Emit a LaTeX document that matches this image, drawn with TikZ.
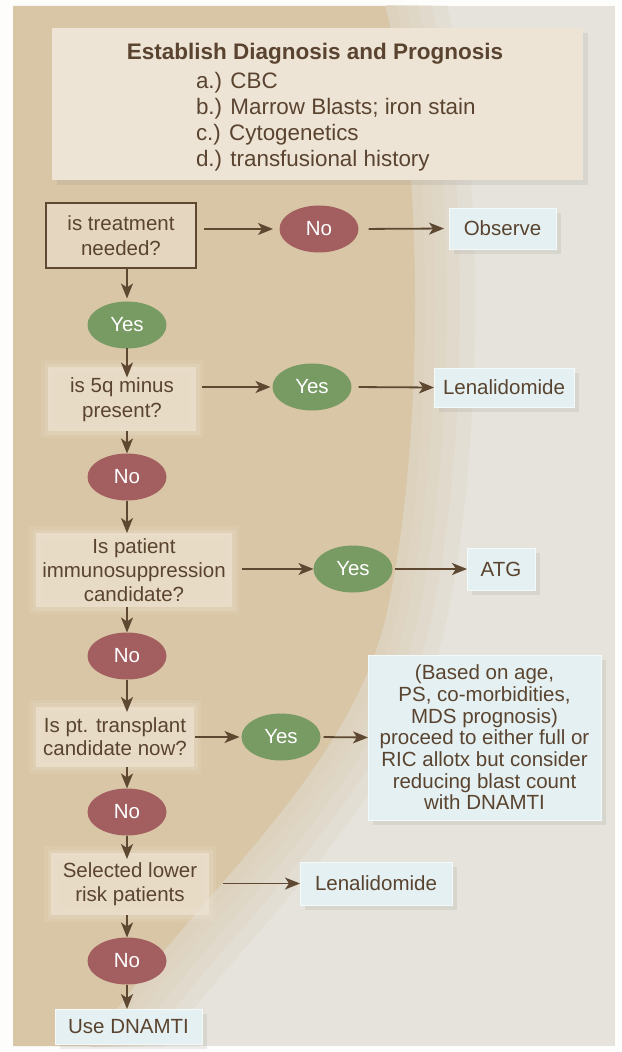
\documentclass[tikz,border=0pt]{standalone}
\usepackage{fontspec}
\setmainfont{Liberation Sans}
\usetikzlibrary{arrows.meta,shadows,shapes.geometric}
\definecolor{txt}{HTML}{5A4430}
\definecolor{arr}{HTML}{5E4832}
\definecolor{nored}{HTML}{A35F60}
\definecolor{yesgreen}{HTML}{789A63}
\definecolor{bluebox}{HTML}{E4F0F1}
\definecolor{tanbg}{HTML}{D9C6A6}
\definecolor{graybg}{HTML}{E5E3DB}
\definecolor{topfill}{HTML}{EDE4D6}
\definecolor{glowfill}{HTML}{EEE4D4}
\begin{document}
\begin{tikzpicture}[x=0.5pt,y=-0.5pt,
 font=\fontsize{10.25}{12.5}\selectfont,
 every node/.style={text=txt, inner sep=0pt, outer sep=0pt},
 oval/.style={ellipse, minimum width=39.5pt, minimum height=23.5pt, text=white},
 nonode/.style={oval, fill=nored},
 yesnode/.style={oval, fill=yesgreen},
 shadowed/.style={drop shadow={opacity=0.14, shadow xshift=2.5pt, shadow yshift=-2.5pt}},
 bluenode/.style={rectangle, fill=bluebox, draw=white!60!bluebox, line width=0.4pt, align=center, shadowed},
 glownode/.style={rectangle, align=center, text opacity=1,
   preaction={draw=glowfill, draw opacity=0.15, line width=7pt},
   preaction={draw=glowfill, draw opacity=0.2, line width=3.5pt},
   fill=glowfill, fill opacity=0.7},
 arrow/.style={draw=arr, line width=0.9pt, -{Stealth[length=7.5pt,width=6pt,inset=2pt]}},
 softedge/.style={tanbg, opacity=0.14},
]
\useasboundingbox (0,0) rectangle (621,1052);
% background
\fill[white!92!graybg] (0,0) rectangle (621,1052);
\fill[graybg] (13,6) rectangle (615,1046);
\begin{scope}
\clip (13,6) rectangle (615,1046);
\fill[tanbg] (13,6) -- (385,6) .. controls (425,150) and (425,450) .. (385,620) .. controls (345,780) and (190,900) .. (90,1046) -- (13,1046) -- cycle;
\foreach \w in {60,45,32,20,10} {
  \draw[softedge, line width=\w pt] (385,6) .. controls (425,150) and (425,450) .. (385,620) .. controls (345,780) and (190,900) .. (90,1046);
}
\end{scope}
% top box
\node[rectangle, fill=topfill, minimum width=265.5pt, minimum height=76pt, shadowed] (top) at (317,104) {};
\node[font=\fontsize{11.25}{13}\selectfont\bfseries] (title) at (315,54) {Establish Diagnosis and Prognosis};
\node[anchor=west, align=left, font=\fontsize{11.2}{13}\selectfont] (items) at (196,122) {a.) CBC\\b.) Marrow Blasts; iron stain\\c.) Cytogenetics\\d.) transfusional history};
% flow
\node[rectangle, draw=arr, line width=1pt, fill=glowfill!55!tanbg, minimum width=75pt, minimum height=32.5pt, align=center] (treat) at (121,235.5) {is treatment\\needed?};
\node[nonode] (no1) at (319,229) {No};
\node[bluenode, minimum width=53.5pt, minimum height=20.5pt] (obs) at (502.5,228.5) {Observe};
\node[yesnode] (yes1) at (127,325) {Yes};
\node[glownode, minimum width=74pt, minimum height=32pt] (q5) at (122,399.5) {is 5q minus\\present?};
\node[yesnode] (yes2) at (312,387) {Yes};
\node[bluenode, minimum width=70pt, minimum height=19.5pt] (lena1) at (504,387.5) {Lenalidomide};
\node[nonode] (no2) at (127,477) {No};
\node[glownode, minimum width=98pt, minimum height=37pt, font=\fontsize{10.25}{12}\selectfont] (immuno) at (134,570) {Is patient\\immunosuppression\\candidate?};
\node[yesnode] (yes3) at (353,569) {Yes};
\node[bluenode, minimum width=34pt, minimum height=21pt] (atg) at (501,569) {ATG};
\node[nonode] (no3) at (127,656) {No};
\node[glownode, minimum width=79pt, minimum height=30pt, font=\fontsize{10.25}{11.5}\selectfont] (trans) at (115,736.5) {Is pt. transplant\\candidate now?};
\node[yesnode] (yes4) at (281,737) {Yes};
\node[bluenode, minimum width=116.5pt, minimum height=82.5pt, font=\fontsize{10.25}{10.85}\selectfont] (big) at (484.5,737.5) {(Based on age,\\PS, co-morbidities,\\MDS prognosis)\\proceed to either full or\\RIC allotx but consider\\reducing blast count\\with DNAMTI};
\node[nonode] (no4) at (127,812) {No};
\node[glownode, minimum width=79pt, minimum height=31pt, font=\fontsize{10.25}{12}\selectfont] (sel) at (130,884) {Selected lower\\risk patients};
\node[bluenode, minimum width=76pt, minimum height=21.5pt] (lena2) at (376,883.5) {Lenalidomide};
\node[nonode] (no5) at (127,961) {No};
\node[bluenode, minimum width=73.5pt, minimum height=17.5pt] (dnamti) at (128.5,1026.5) {Use DNAMTI};
% vertical arrows
\draw[arrow, shorten >=1.5pt] (yes1.north |- treat.south) -- (yes1.north);
\draw[arrow, shorten >=-5pt] (yes1.south) -- (yes1.south |- q5.north);
\draw[arrow] (no2.north |- q5.south) -- (no2.north);
\draw[arrow] (no2.south) -- (no2.south |- immuno.north);
\draw[arrow] (no3.north |- immuno.south) -- (no3.north);
\draw[arrow, shorten >=-2.75pt] (no3.south) -- (no3.south |- trans.north);
\draw[arrow] (no4.north |- trans.south) -- (no4.north);
\draw[arrow, shorten >=-3pt] (no4.south) -- (no4.south |- sel.north);
\draw[arrow] (no5.north |- sel.south) -- (no5.north);
\draw[arrow] (no5.south) -- (no5.south |- dnamti.north);
% horizontal arrows
\draw[arrow, shorten <=4pt, shorten >=3.25pt] (treat.east |- no1.west) -- (no1.west);
\draw[arrow, shorten <=5pt, shorten >=2.5pt] (no1.east) -- (obs.west);
\draw[arrow, shorten <=3pt, shorten >=1pt] (q5.east |- yes2.west) -- (yes2.west);
\draw[arrow, shorten <=3.5pt] (yes2.east) -- (lena1.west);
\draw[arrow, shorten <=4.75pt] (immuno.east |- yes3.west) -- (yes3.west);
\draw[arrow, shorten <=1pt] (yes3.east) -- (atg.west);
\draw[arrow, shorten <=0.5pt, shorten >=1pt] (trans.east |- yes4.west) -- (yes4.west);
\draw[arrow, shorten <=1.5pt] (yes4.east) -- (big.west);
\draw[arrow, shorten <=6.75pt] (sel.east |- lena2.west) -- (lena2.west);
\end{tikzpicture}
\end{document}
